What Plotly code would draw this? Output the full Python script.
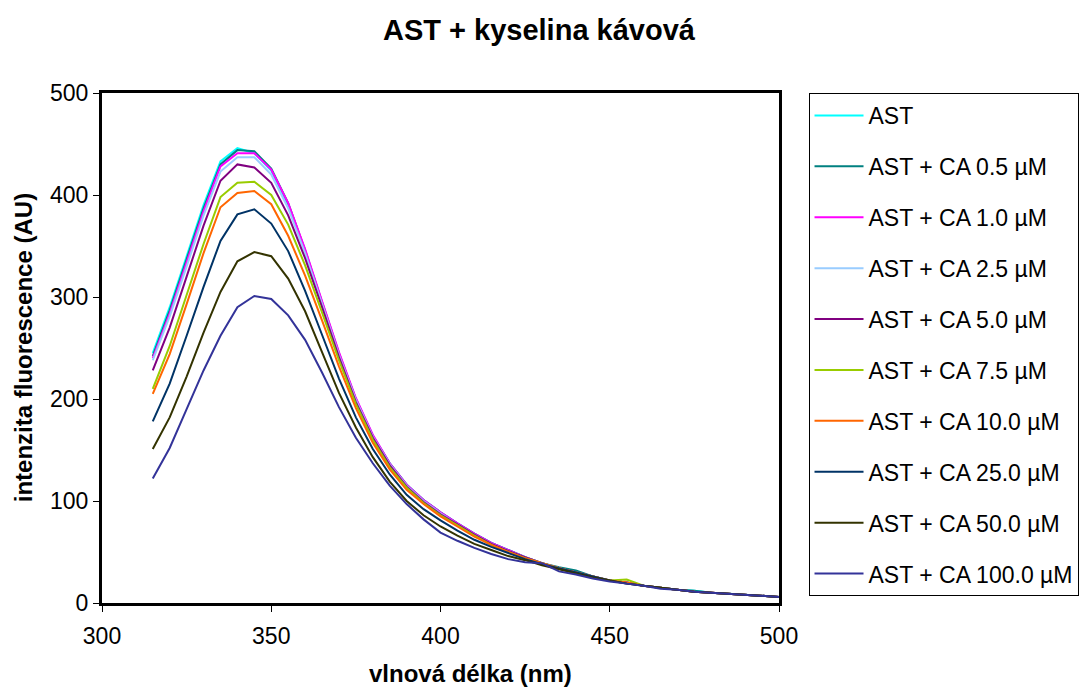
import plotly.graph_objects as go

# emission wavelength grid (nm)
wavelength = [315, 320, 325, 330, 335, 340, 345, 350, 355, 360,
              365, 370, 375, 380, 385, 390, 395, 400, 405, 410,
              415, 420, 425, 430, 435, 440, 445, 450, 455, 460,
              465, 470, 475, 480, 485, 490, 495, 500]

series_names = ["AST", "AST + CA 0.5 µM", "AST + CA 1.0 µM", "AST + CA 2.5 µM",
                "AST + CA 5.0 µM", "AST + CA 7.5 µM", "AST + CA 10.0 µM",
                "AST + CA 25.0 µM", "AST + CA 50.0 µM", "AST + CA 100.0 µM"]

ast = [245, 290, 340, 390, 433, 446, 441, 424, 390, 345, 294, 244, 200, 164, 137, 116, 101, 89, 78,
       68, 59, 52, 45, 39, 34, 30, 26, 22, 20, 17, 15, 13, 12, 10, 9, 8, 7, 6]
ca_0_5 = [242, 287, 337, 387, 430, 444, 443, 426, 392, 346, 295, 245, 200, 164, 137, 116, 101, 89, 78,
          68, 59, 52, 45, 39, 35, 32, 26, 22, 20, 17, 15, 13, 12, 10, 9, 8, 7, 6]
ca_1_0 = [240, 284, 334, 384, 428, 441, 441, 425, 392, 347, 296, 246, 201, 165, 137, 116, 101, 89, 78,
          68, 59, 52, 45, 39, 34, 30, 26, 22, 20, 17, 15, 13, 11, 10, 9, 8, 7, 6]
ca_2_5 = [238, 281, 330, 380, 423, 437, 437, 420, 387, 343, 293, 243, 199, 163, 136, 115, 100, 88, 77,
          67, 58, 51, 45, 39, 34, 30, 26, 22, 20, 17, 15, 13, 11, 10, 9, 8, 7, 6]
ca_5_0 = [228, 270, 320, 370, 414, 430, 427, 412, 380, 338, 290, 241, 197, 162, 135, 114, 99, 87, 77,
          67, 58, 51, 45, 39, 34, 30, 26, 22, 20, 17, 15, 13, 11, 10, 9, 8, 7, 6]
ca_7_5 = [210, 252, 302, 352, 398, 412, 413, 400, 371, 331, 285, 238, 195, 160, 133, 113, 98, 86, 76,
          66, 57, 50, 44, 39, 34, 30, 26, 22, 23, 17, 15, 13, 11, 10, 9, 8, 7, 6]
ca_10_0 = [205, 244, 293, 343, 388, 402, 404, 391, 360, 321, 277, 232, 191, 157, 131, 111, 97, 85, 75,
           65, 57, 50, 44, 39, 34, 30, 26, 22, 20, 17, 15, 13, 11, 10, 9, 8, 7, 6]
ca_25_0 = [178, 215, 262, 310, 355, 381, 386, 372, 345, 306, 263, 220, 182, 151, 126, 106, 92, 81, 71,
           62, 55, 49, 43, 38, 34, 30, 26, 22, 19, 17, 15, 13, 11, 10, 9, 8, 7, 6]
ca_50_0 = [151, 182, 222, 265, 305, 335, 344, 340, 318, 286, 246, 206, 172, 143, 119, 100, 86, 75, 66,
           58, 52, 46, 42, 37, 33, 29, 25, 22, 19, 17, 15, 13, 11, 10, 9, 8, 7, 6]
ca_100_0 = [122, 152, 190, 228, 262, 290, 301, 298, 282, 258, 226, 192, 162, 137, 115, 97, 82, 69, 61,
            54, 48, 43, 40, 39, 31, 28, 24, 21, 19, 17, 14, 13, 11, 10, 9, 8, 7, 6]

intensities = [ast, ca_0_5, ca_1_0, ca_2_5, ca_5_0, ca_7_5, ca_10_0, ca_25_0, ca_50_0, ca_100_0]

colors = ["#00FFFF", "#008080", "#FF00FF", "#99CCFF", "#800080",
          "#99CC00", "#FF6600", "#003366", "#333300", "#333399"]

x_ticks = [300, 350, 400, 450, 500]
y_ticks = [0, 100, 200, 300, 400, 500]

FONT = "Liberation Sans, Arial, sans-serif"

fig = go.Figure()
for name, values, color in zip(series_names, intensities, colors):
    fig.add_trace(go.Scatter(
        x=wavelength, y=values, name=name, mode="lines",
        line=dict(color=color, width=2),
        legendgroup=name,
    ))

fig.update_layout(
    width=1091, height=691,
    margin=dict(l=102, r=301, t=93, b=88),
    paper_bgcolor="white", plot_bgcolor="white",
    font=dict(family=FONT, size=23, color="black"),
    title=dict(text="<b>AST + kyselina kávová</b>", x=0.494, xanchor="center",
               y=0.957, yanchor="middle", font=dict(size=29, family=FONT)),
    legend=dict(x=1.0436, xanchor="left", y=1.0, yanchor="top",
                bordercolor="black", borderwidth=1, bgcolor="white",
                font=dict(size=23, family=FONT), tracegroupgap=18,
                itemwidth=49),
    showlegend=True,
    annotations=[
        dict(text="<b>vlnová délka (nm)</b>", xref="paper", yref="paper",
             x=0.5436, y=-0.139, xanchor="center", yanchor="middle",
             showarrow=False, font=dict(size=24, family=FONT)),
        dict(text="<b>intenzita fluorescence (AU)</b>", xref="paper", yref="paper",
             x=-0.1163, y=0.5, xanchor="center", yanchor="middle", textangle=-90,
             showarrow=False, font=dict(size=24, family=FONT)),
    ],
)

fig.update_xaxes(
    range=[300, 500], tickvals=x_ticks, ticktext=[str(v) for v in x_ticks],
    showline=True, linecolor="black", linewidth=3, mirror=True,
    ticks="outside", ticklen=6, tickwidth=1, tickcolor="black",
    showgrid=False, zeroline=False, ticklabelstandoff=4,
)
fig.update_yaxes(
    range=[0, 500], tickvals=y_ticks, ticktext=[str(v) for v in y_ticks],
    showline=True, linecolor="black", linewidth=3, mirror=True,
    ticks="outside", ticklen=6, tickwidth=1, tickcolor="black",
    showgrid=False, zeroline=False, ticklabelstandoff=0,
)

fig.write_html("out.html")
